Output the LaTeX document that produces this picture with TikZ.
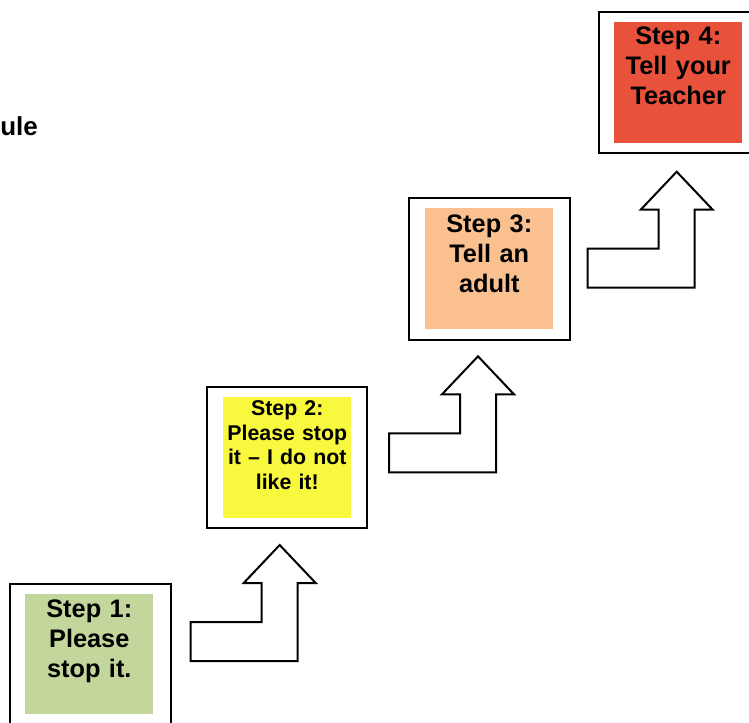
\documentclass[tikz,border=0pt]{standalone}
\usepackage{fontspec}
\setmainfont{Liberation Sans}
\usepackage{tikz}
\usetikzlibrary{positioning}

\definecolor{stepgreen}{HTML}{C3D69B}
\definecolor{stepyellow}{HTML}{F8F83E}
\definecolor{steporange}{HTML}{FAC090}
\definecolor{stepred}{HTML}{E9523A}

\begin{document}
\begin{tikzpicture}[x=0.75pt,y=-0.75pt]
\tikzstyle{frame}=[draw,line width=1.5pt,fill=white,anchor=north west,inner sep=0pt,minimum width=120.4pt,minimum height=106.1pt]
\tikzstyle{card}=[anchor=north west,inner sep=0pt,minimum width=96pt,minimum height=90.4pt]
\tikzstyle{bigtext}=[font=\bfseries\fontsize{19}{22.5}\selectfont,align=center,inner sep=0pt,text width=94pt]
\tikzstyle{smalltext}=[font=\bfseries\fontsize{16}{18.4}\selectfont,align=center,inner sep=0pt,text width=94pt]
\tikzstyle{uparrow}=[draw,line width=1.5pt,fill=white,line join=miter]
\useasboundingbox (0,0) rectangle (749,722);
\clip (0,0) rectangle (749,722);

\node[font=\bfseries\fontsize{19.5}{23}\selectfont,anchor=base west,inner sep=0pt] (title) at (0,135.7) {ule};

% step boxes
\node[frame] (f1) at (9,582.7) {};
\node[card,fill=stepgreen] (c1) at (25,593.3) {};
\node[bigtext,below=4.8pt of c1.north] (l1) {Step 1:\\Please\\stop it.};

\node[frame] (f2) at (205.7,385.7) {};
\node[card,fill=stepyellow] (c2) at (223,397) {};
\node[smalltext,below=2.8pt of c2.north] (l2) {Step 2:\\Please stop\\it \textendash{} I do not\\like it!};

\node[frame] (f3) at (408,197.3) {};
\node[card,fill=steporange] (c3) at (425,208) {};
\node[bigtext,below=5pt of c3.north] (l3) {Step 3:\\Tell an\\adult};

\node[frame] (f4) at (597.7,11) {};
\node[card,fill=stepred] (c4) at (614,22) {};
\node[bigtext,below=3.4pt of c4.north] (l4) {Step 4:\\Tell your\\Teacher};

% bent arrows
\foreach \bx/\by in {190.7/661,389/472.3,587.7/287.7}
  \draw[uparrow] (\bx,\by) -- ++(107,0) -- ++(0,-78) -- ++(18,0) -- ++(-36,-38)
    -- ++(-36,38) -- ++(18,0) -- ++(0,39) -- ++(-71,0) -- cycle;
\end{tikzpicture}
\end{document}
